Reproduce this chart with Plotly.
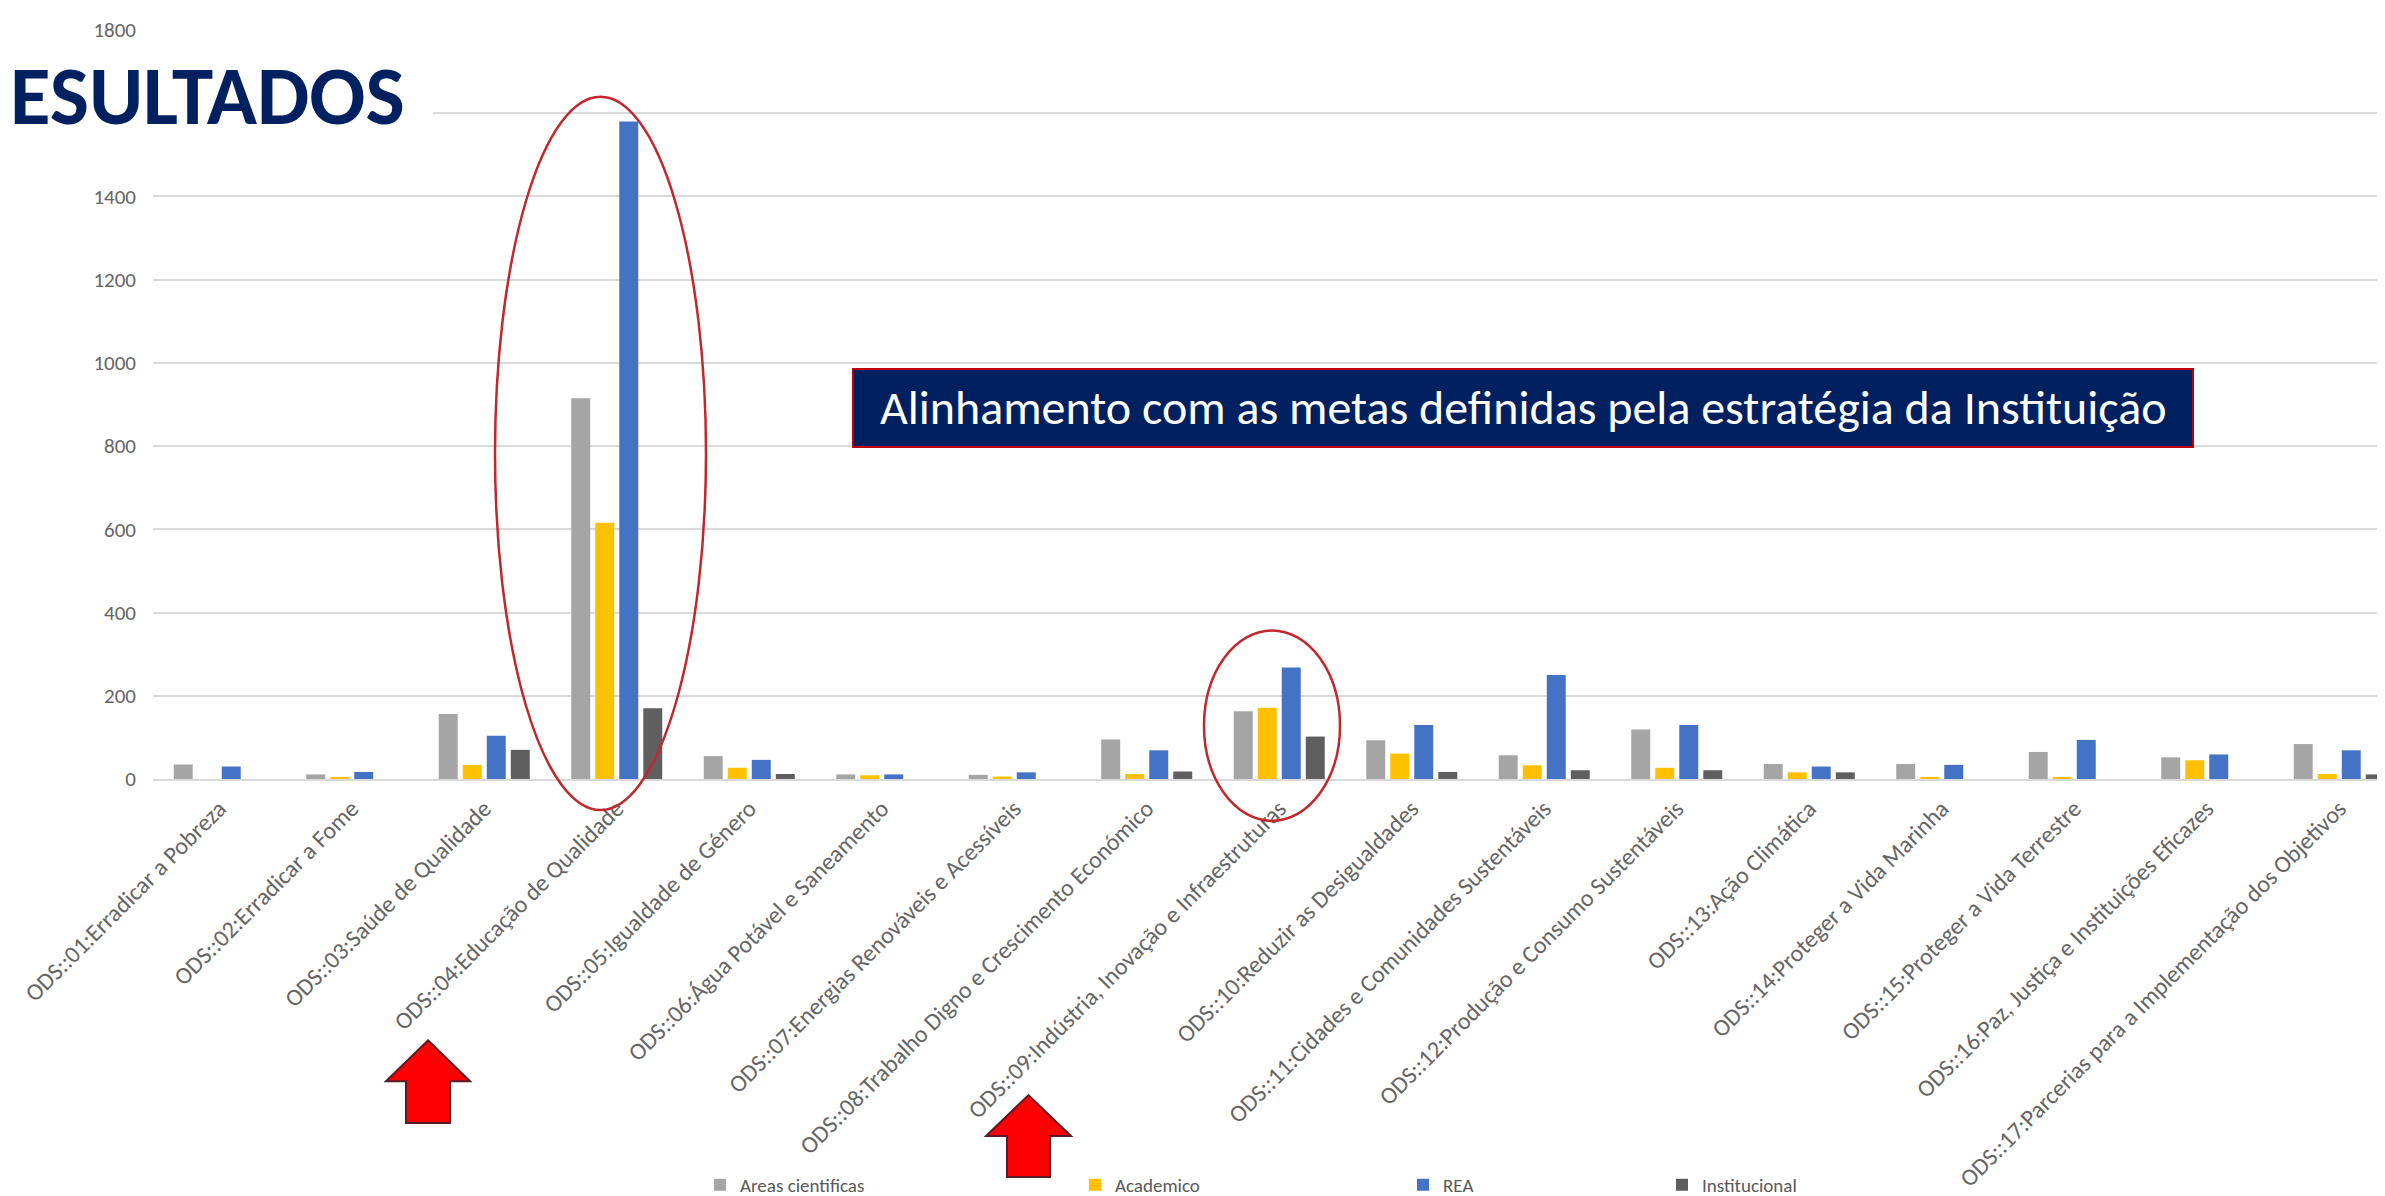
import plotly.graph_objects as go

# ---------------- data ----------------
categories = [
    "ODS::01:Erradicar a Pobreza",
    "ODS::02:Erradicar a Fome",
    "ODS::03:Saúde de Qualidade",
    "ODS::04:Educação de Qualidade",
    "ODS::05:Igualdade de Género",
    "ODS::06:Água Potável e Saneamento",
    "ODS::07:Energias Renováveis e Acessíveis",
    "ODS::08:Trabalho Digno e Crescimento Económico",
    "ODS::09:Indústria, Inovação e Infraestruturas",
    "ODS::10:Reduzir as Desigualdades",
    "ODS::11:Cidades e Comunidades Sustentáveis",
    "ODS::12:Produção e Consumo Sustentáveis",
    "ODS::13:Ação Climática",
    "ODS::14:Proteger a Vida Marinha",
    "ODS::15:Proteger a Vida Terrestre",
    "ODS::16:Paz, Justiça e Instituições Eficazes",
    "ODS::17:Parcerias para a Implementação dos Objetivos",
]
areas_cientificas = [35, 11, 156, 915, 55, 11, 10, 95, 163, 93, 57, 119, 36, 36, 65, 52, 84]
academico = [0, 5, 34, 616, 27, 9, 6, 12, 171, 61, 33, 27, 16, 5, 5, 45, 12]
rea = [30, 17, 104, 1580, 46, 11, 16, 69, 268, 130, 250, 130, 30, 34, 94, 59, 69]
institucional = [0, 0, 70, 170, 12, 0, 0, 18, 102, 17, 21, 21, 16, 0, 0, 0, 11]
series_names = ["Areas cientificas", "Academico", "REA", "Institucional"]
y_ticks = [0, 200, 400, 600, 800, 1000, 1200, 1400, 1600, 1800]
# the 1600 label is hidden behind the slide title in the original
y_tick_labels = ["0", "200", "400", "600", "800", "1000", "1200", "1400", "", "1800"]
title_text = "ESULTADOS"
box_text = "Alinhamento com as metas definidas pela estratégia da Instituição"

colors = ["#A5A5A5", "#FFC000", "#4472C4", "#5F5F5F"]
FONT = "Carlito, Lato, sans-serif"
GREY = "#595959"
TICKGREY = "#656565"

# ---------------- geometry helpers ----------------
W, H = 2385, 1196
L, R, T, B = 145, 0, 22, 423
PW = W - L - R
PH = H - T - B


def px(x):
    return (x - L) / PW


def py(y):
    return (H - B - y) / PH


fig = go.Figure()
values = [areas_cientificas, academico, rea, institucional]
legend_ids = ["legend", "legend2", "legend3", "legend4"]
for name, vals, col, lg in zip(series_names, values, colors, legend_ids):
    fig.add_trace(go.Bar(x=categories, y=vals, name=name, marker_color=col,
                         marker_line_width=0, legend=lg, showlegend=True))

legend_text_x = [732, 1107, 1435, 1694]
legend_common = dict(orientation="h", yanchor="middle", y=py(1180), xanchor="left",
                     font=dict(family=FONT, size=19, color=GREY), bgcolor="rgba(0,0,0,0)",
                     itemwidth=30, visible=True)

shapes = []
# white cover behind the slide title
shapes.append(dict(type="rect", xref="paper", yref="paper", x0=px(0), x1=px(425),
                   y0=py(150), y1=py(45), fillcolor="white", line=dict(width=0), layer="above"))
# ellipses
shapes.append(dict(type="circle", xref="paper", yref="paper", x0=px(487), x1=px(698),
                   y0=py(804), y1=py(89), line=dict(color="#C0282D", width=2.5), layer="above"))
shapes.append(dict(type="circle", xref="paper", yref="paper", x0=px(1196), x1=px(1332),
                   y0=py(815), y1=py(624), line=dict(color="#C0282D", width=2.5), layer="above"))
# navy box
shapes.append(dict(type="rect", xref="paper", yref="paper", x0=px(845), x1=px(2185),
                   y0=py(440), y1=py(362), fillcolor="#002060",
                   line=dict(color="#C00000", width=2), layer="above"))


def arrow(xl, xr, sl, sr, ytip, ybase, ybot):
    xm = (xl + xr) / 2
    pts = [(xm, ytip), (xr, ybase), (sr, ybase), (sr, ybot), (sl, ybot), (sl, ybase), (xl, ybase)]
    d = "M " + " L ".join(f"{px(a):.5f},{py(b):.5f}" for a, b in pts) + " Z"
    return dict(type="path", xref="paper", yref="paper", path=d, fillcolor="#FF0000",
                line=dict(color="#5A1A2A", width=2), layer="above")


shapes.append(arrow(378, 462, 398, 442, 1035, 1076, 1118))
shapes.append(arrow(978, 1063, 999, 1042, 1090, 1131, 1172))

annotations = [
    dict(text=f"<b>{title_text}</b>", xref="paper", yref="paper", x=px(0), y=py(88),
         xanchor="left", yanchor="middle", showarrow=False,
         font=dict(family=FONT, size=83, color="#002060")),
    dict(text=box_text, xref="paper", yref="paper", x=px(1515), y=py(401),
         xanchor="center", yanchor="middle", showarrow=False,
         font=dict(family=FONT, size=48, color="white")),
]

layout_kwargs = {}
for lg, tx in zip(legend_ids, legend_text_x):
    layout_kwargs[lg] = dict(legend_common, x=px(tx - 40))

fig.update_layout(
    width=W, height=H, autosize=False, showlegend=True,
    margin=dict(l=L, r=R, t=T, b=B, pad=0),
    paper_bgcolor="white", plot_bgcolor="white",
    barmode="group", bargap=0.275, bargroupgap=0.21,
    font=dict(family=FONT, color=GREY),
    xaxis=dict(type="category", range=[-0.5, -0.5 + PW / 132.5], tickangle=-45,
               showgrid=False, showline=True, linecolor="#D9D9D9", linewidth=2,
               ticks="", tickfont=dict(family=FONT, size=24, color=TICKGREY),
               ticklabelstandoff=4, fixedrange=True),
    yaxis=dict(range=[0, 1800], tickvals=y_ticks, ticktext=y_tick_labels,
               showgrid=True, gridcolor="#D9D9D9",
               gridwidth=2, zeroline=False, showline=False, ticks="",
               tickfont=dict(family=FONT, size=21, color=TICKGREY), ticklabelstandoff=16),
    shapes=shapes, annotations=annotations,
    **layout_kwargs,
)

fig.write_html("out.html")
